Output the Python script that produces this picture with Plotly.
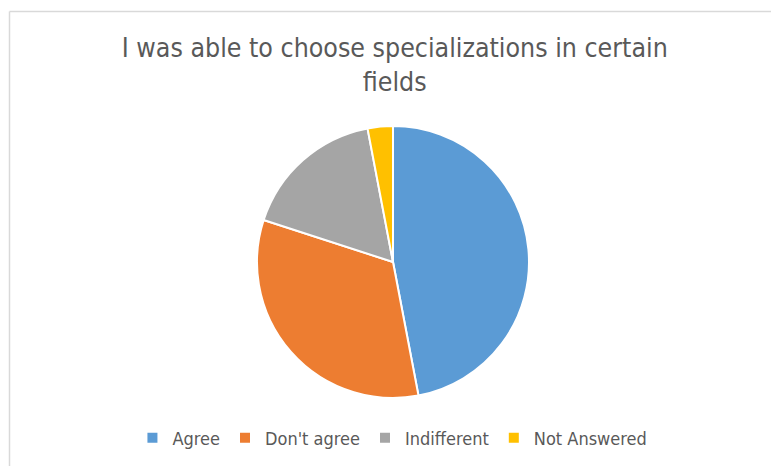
import plotly.graph_objects as go

categories = ["Agree", "Don't agree", "Indifferent", "Not Answered"]
values = [47, 33, 17, 3]
colors = ["#5B9BD5", "#ED7D31", "#A5A5A5", "#FFC000"]

W, H = 771, 466
FONT = "Liberation Sans Narrow, DejaVu Sans Condensed, sans-serif"

fig = go.Figure(go.Pie(
    labels=categories,
    values=values,
    sort=False,
    direction="clockwise",
    rotation=0,
    textinfo="none",
    hoverinfo="label+percent",
    marker=dict(colors=colors, line=dict(color="white", width=2)),
    domain=dict(x=[257 / W, 529 / W], y=[1 - 398 / H, 1 - 126 / H]),
))

fig.update_layout(
    width=W, height=H,
    margin=dict(l=0, r=0, t=0, b=0),
    paper_bgcolor="white",
    plot_bgcolor="white",
    title=dict(
        text="I was able to choose specializations in certain<br>fields",
        x=0.512, xanchor="center",
        y=1 - 57 / H, yanchor="top",
        font=dict(family=FONT, size=26.5, color="#595959"),
    ),
    legend=dict(
        orientation="h",
        x=0.509, xanchor="center",
        y=1 - 438 / H, yanchor="middle",
        font=dict(family=FONT, size=18, color="#595959"),
        itemwidth=30,
        traceorder="normal",
    ),
    shapes=[
        dict(type="line", xref="paper", yref="paper", x0=9.5 / W, x1=1, y0=1 - 11.5 / H, y1=1 - 11.5 / H,
             line=dict(color="#D9D9D9", width=1.5)),
        dict(type="line", xref="paper", yref="paper", x0=9.5 / W, x1=9.5 / W, y0=0, y1=1 - 11.5 / H,
             line=dict(color="#D9D9D9", width=1.5)),
    ],
)

fig.write_html("out.html", config={"displayModeBar": False},
               post_script="document.body.style.margin='0';")
